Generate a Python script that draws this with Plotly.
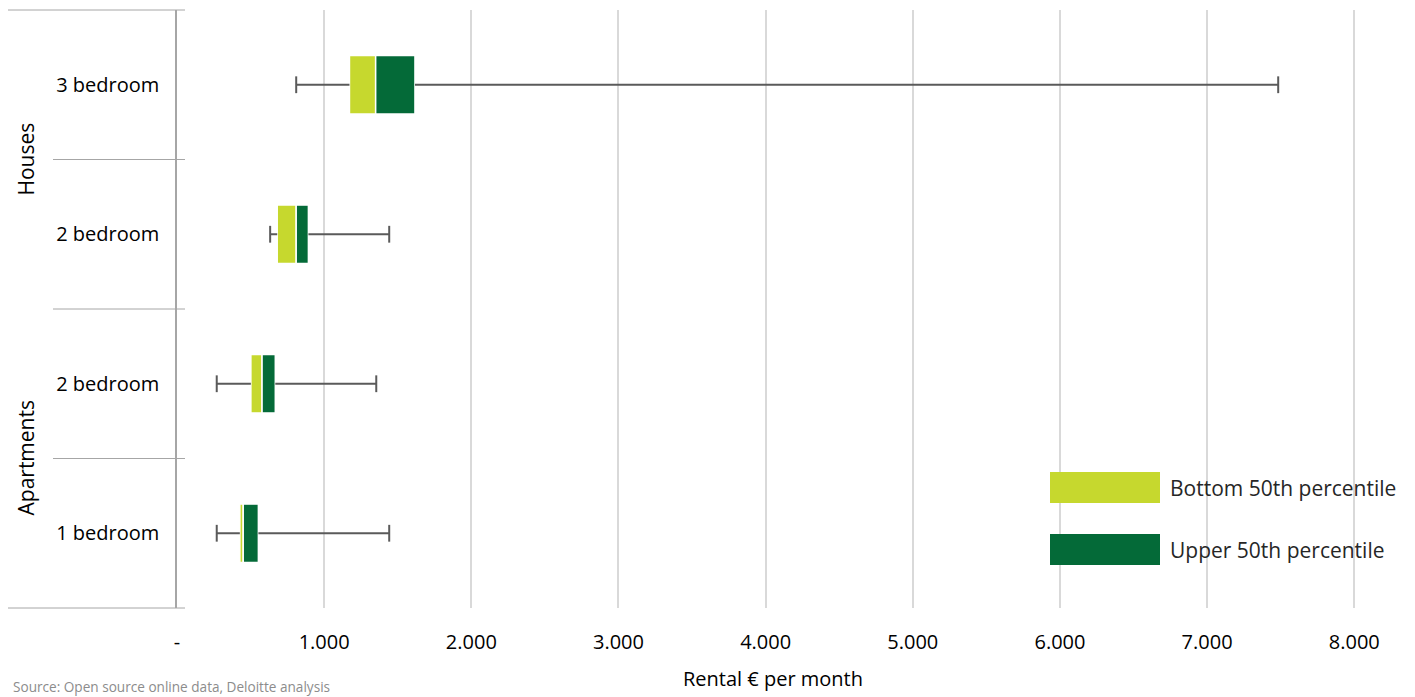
import plotly.graph_objects as go

# ---- data ----
categories = ["1 bedroom", "2 bedroom", "2 bedroom", "3 bedroom"]
groups = ["Apartments", "Apartments", "Houses", "Houses"]
mins = [270, 270, 633, 810]
q1 = [427, 502, 681, 1172]
median = [450, 578, 810, 1350]
q3 = [553, 668, 893, 1617]
maxs = [1442, 1354, 1442, 7483]
x_tickvals = [0, 1000, 2000, 3000, 4000, 5000, 6000, 7000, 8000]
x_ticktext = ["-", "1.000", "2.000", "3.000", "4.000", "5.000", "6.000", "7.000", "8.000"]
legend_names = ["Bottom 50th percentile", "Upper 50th percentile"]

LIGHT = "#C6D82E"
DARK = "#046A38"
WHISK = "#5a5a5a"
FONT = "Open Sans"

ypos = list(range(len(categories)))

fig = go.Figure()

# whiskers
wx, wy = [], []
for i, y in enumerate(ypos):
    wx += [mins[i], q1[i], None, q3[i], maxs[i], None]
    wy += [y, y, None, y, y, None]
fig.add_trace(go.Scatter(x=wx, y=wy, mode="lines", line=dict(color=WHISK, width=2),
                         hoverinfo="skip", showlegend=False))
fig.add_trace(go.Scatter(x=mins + maxs, y=ypos + ypos, mode="markers",
                         marker=dict(symbol="line-ns", size=12, line=dict(color=WHISK, width=2)),
                         hoverinfo="skip", showlegend=False))

# boxes
fig.add_trace(go.Bar(y=ypos, x=[m - a for m, a in zip(median, q1)], base=q1, orientation="h",
                     width=0.39, marker=dict(color=LIGHT, line=dict(color="white", width=1.5)),
                     name=legend_names[0], showlegend=False))
fig.add_trace(go.Bar(y=ypos, x=[b - m for b, m in zip(q3, median)], base=median, orientation="h",
                     width=0.39, marker=dict(color=DARK, line=dict(color="white", width=1.5)),
                     name=legend_names[1], showlegend=False))

# page body has an 8px margin: lay out in page pixels, shifted by OFF
OFF = 8
W, H = 1415 - OFF, 697 - OFF
L, T = 177 - OFF, 10 - OFF
PB = 608 - OFF          # plot bottom (figure px)
PR = 1369 - OFF         # plot right (figure px)
B, R = H - PB, W - PR
pw, ph = PR - L, PB - T


def px(x):
    return (x - OFF - L) / pw


def py(y):
    return (PB - (y - OFF)) / ph


shapes = []
# divider lines on the category axis
for k in range(5):
    x0 = px(7) if k in (0, 4) else px(53)
    shapes.append(dict(type="line", xref="paper", yref="paper", x0=x0, x1=px(185),
                       y0=k / 4, y1=k / 4, line=dict(color="#a6a6a6", width=1)))
# legend swatches
shapes.append(dict(type="rect", xref="paper", yref="paper", x0=px(1050), x1=px(1160),
                   y0=py(503), y1=py(472), fillcolor=LIGHT, line=dict(width=0), layer="above"))
shapes.append(dict(type="rect", xref="paper", yref="paper", x0=px(1050), x1=px(1160),
                   y0=py(565), y1=py(534), fillcolor=DARK, line=dict(width=0), layer="above"))

annotations = [
    dict(text=legend_names[0], xref="paper", yref="paper", x=px(1168), y=py(488),
         xanchor="left", yanchor="middle", showarrow=False,
         font=dict(family=FONT, size=21, color="#262626")),
    dict(text=legend_names[1], xref="paper", yref="paper", x=px(1168), y=py(550),
         xanchor="left", yanchor="middle", showarrow=False,
         font=dict(family=FONT, size=21, color="#262626")),
    dict(text="Houses", xref="paper", yref="paper", x=px(25), y=0.75, textangle=-90,
         xanchor="center", yanchor="middle", showarrow=False,
         font=dict(family=FONT, size=21, color="#000000")),
    dict(text="Apartments", xref="paper", yref="paper", x=px(25), y=0.25, textangle=-90,
         xanchor="center", yanchor="middle", showarrow=False,
         font=dict(family=FONT, size=21, color="#000000")),
    dict(text="Source: Open source online data, Deloitte analysis", xref="paper", yref="paper",
         x=px(11), y=py(686), xanchor="left", yanchor="middle", showarrow=False,
         font=dict(family=FONT, size=13.6, color="#8c8c8c")),
]

fig.update_layout(
    width=W, height=H,
    margin=dict(l=L, r=R, t=T, b=B),
    paper_bgcolor="white", plot_bgcolor="white",
    barmode="overlay",
    shapes=shapes, annotations=annotations,
    font=dict(family=FONT, color="#000000"),
    xaxis=dict(range=[0, 8100], tickvals=x_tickvals, ticktext=x_ticktext,
               showgrid=True, gridcolor="#d9d9d9", gridwidth=2, zeroline=False,
               showline=False, ticks="", ticklabelstandoff=20,
               tickfont=dict(family=FONT, size=20, color="#000000"),
               title=dict(text="Rental € per month", standoff=17,
                          font=dict(family=FONT, size=20, color="#000000"))),
    yaxis=dict(range=[-0.5, 3.5], tickvals=ypos, ticktext=categories,
               showgrid=False, zeroline=False, showline=True, linecolor="#a6a6a6",
               linewidth=1.5, ticks="", ticklabelstandoff=12,
               tickfont=dict(family=FONT, size=20, color="#000000")),
)

fig.write_html("out.html")
